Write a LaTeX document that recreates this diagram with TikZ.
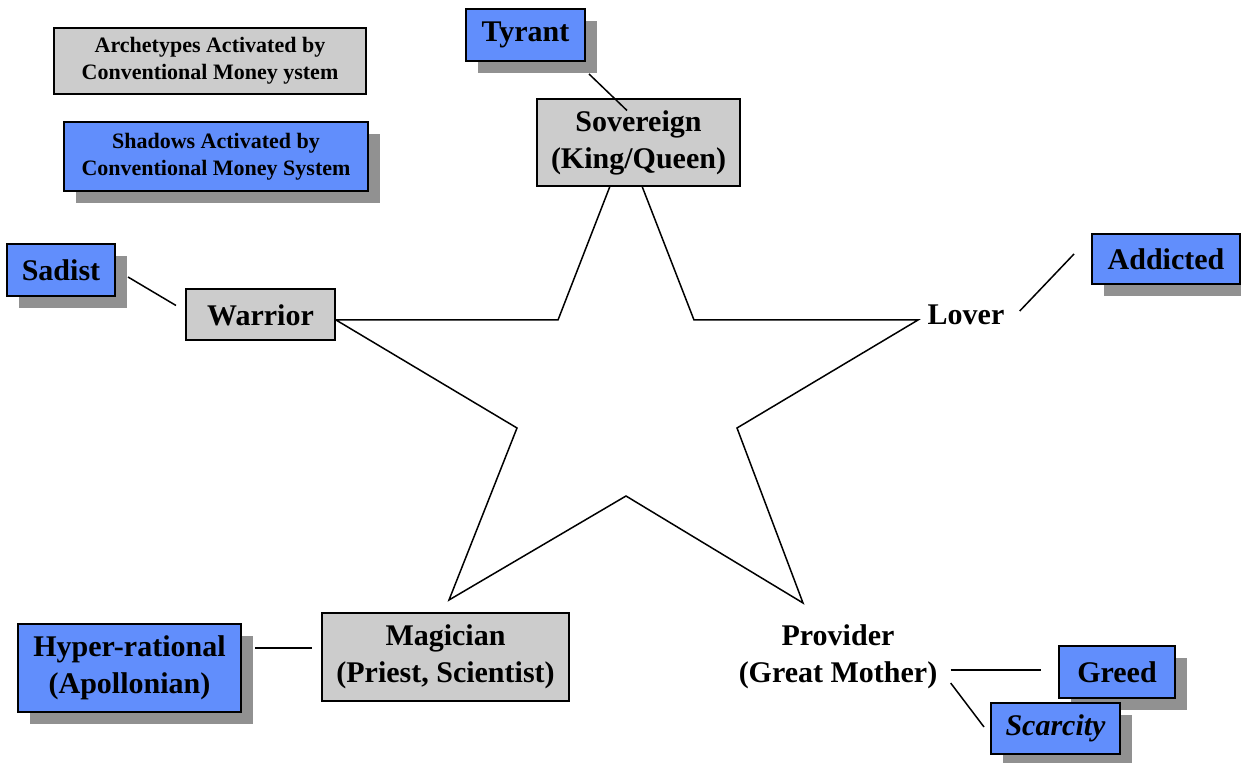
\documentclass[tikz,border=0pt]{standalone}
\usepackage{fontspec}
\setmainfont{Liberation Serif}
\usetikzlibrary{shadows}

\definecolor{archgray}{RGB}{204,204,204}
\definecolor{shadowblue}{RGB}{97,142,252}
\definecolor{dropgray}{RGB}{145,145,145}

\begin{document}
\begin{tikzpicture}[%
        x = 0.5pt,
        y = -0.5pt,
        font = \bfseries\fontsize{15}{18.5}\selectfont,
        archetype/.style = {draw, line width = 1pt, fill = archgray,
            align = center, inner sep = 0pt},
        shadowbox/.style = {draw, line width = 1pt, fill = shadowblue,
            align = center, inner sep = 0pt,
            drop shadow = {shadow xshift = 6pt, shadow yshift = -6pt,
                fill = dropgray, opacity = 1}},
        legend/.style = {font = \bfseries\fontsize{11}{13.5}\selectfont},
        link/.style = {line width = 0.75pt}
    ]

        \useasboundingbox (0, 0) rectangle (1241, 763);

        % Points of the star.
        \coordinate (top) at (626, 145);
        \coordinate (in1) at (694, 320);
        \coordinate (right) at (918, 320);
        \coordinate (in2) at (737, 428);
        \coordinate (lowright) at (803, 603);
        \coordinate (in3) at (626, 496);
        \coordinate (lowleft) at (449, 600);
        \coordinate (in4) at (517, 428);
        \coordinate (left) at (336, 320);
        \coordinate (in5) at (558, 320);

        % Draw the star.
        \draw[link] (top) -- (in1) -- (right) -- (in2) -- (lowright)
            -- (in3) -- (lowleft) -- (in4) -- (left) -- (in5) -- cycle;

        % Legend boxes.
        \node[archetype, legend, minimum width = 156pt, minimum height = 33pt]
            (legarch) at (210, 61) {Archetypes Activated by\\Conventional Money ystem};
        \node[shadowbox, legend, minimum width = 152pt, minimum height = 34.5pt]
            (legshadow) at (216, 157) {Shadows Activated by\\Conventional Money System};

        % The archetypes.
        \node[archetype, minimum width = 101.5pt, minimum height = 43.5pt]
            (sovereign) at (638.5, 143) {Sovereign\\(King/Queen)};
        \node[archetype, minimum width = 74.5pt, minimum height = 25.5pt]
            (warrior) at (260.5, 315) {Warrior};
        \node[inner sep = 0pt] (lover) at (966, 315) {Lover};
        \node[archetype, minimum width = 123.5pt, minimum height = 43.5pt]
            (magician) at (445.5, 657) {Magician\\(Priest, Scientist)};
        \node[inner sep = 0pt, align = center] (provider) at (838, 657)
            {Provider\\(Great Mother)};

        % The shadows.
        \node[shadowbox, minimum width = 59.5pt, minimum height = 26pt]
            (tyrant) at (525.5, 35) {Tyrant};
        \node[shadowbox, minimum width = 54pt, minimum height = 26pt]
            (sadist) at (61, 270) {Sadist};
        \node[shadowbox, minimum width = 74pt, minimum height = 25pt]
            (addicted) at (1166, 259) {Addicted};
        \node[shadowbox, minimum width = 111.5pt, minimum height = 44pt]
            (hyper) at (129.5, 668) {Hyper-rational\\(Apollonian)};
        \node[shadowbox, minimum width = 58pt, minimum height = 26pt]
            (greed) at (1117, 672) {Greed};
        \node[shadowbox, minimum width = 64.5pt, minimum height = 25.5pt]
            (scarcity) at (1055.5, 728.5) {\itshape Scarcity};

        % Connect each archetype to its shadow.
        \draw[link] ([xshift = 1.5pt, yshift = -6pt]tyrant.south east)
            -- ([xshift = -5.75pt, yshift = -6pt]sovereign.north);
        \draw[link] ([xshift = 6pt, yshift = -3.5pt]sadist.east)
            -- ([xshift = -4.5pt, yshift = 4.75pt]warrior.west);
        \draw[link] ([xshift = 7.5pt, yshift = 2pt]lover.east)
            -- ([xshift = -8.5pt, yshift = 2.5pt]addicted.west);
        \draw[link] ([xshift = 6.5pt, yshift = 10pt]hyper.east)
            -- ([xshift = -4.5pt, yshift = 4.5pt]magician.west);
        \draw[link] ([xshift = 6.5pt, yshift = -6.5pt]provider.east)
            -- ([xshift = -8.5pt, yshift = 1pt]greed.west);
        \draw[link] ([xshift = 6.5pt, yshift = -13pt]provider.east)
            -- ([xshift = -3pt, yshift = 0.75pt]scarcity.west);
    \end{tikzpicture}
\end{document}
